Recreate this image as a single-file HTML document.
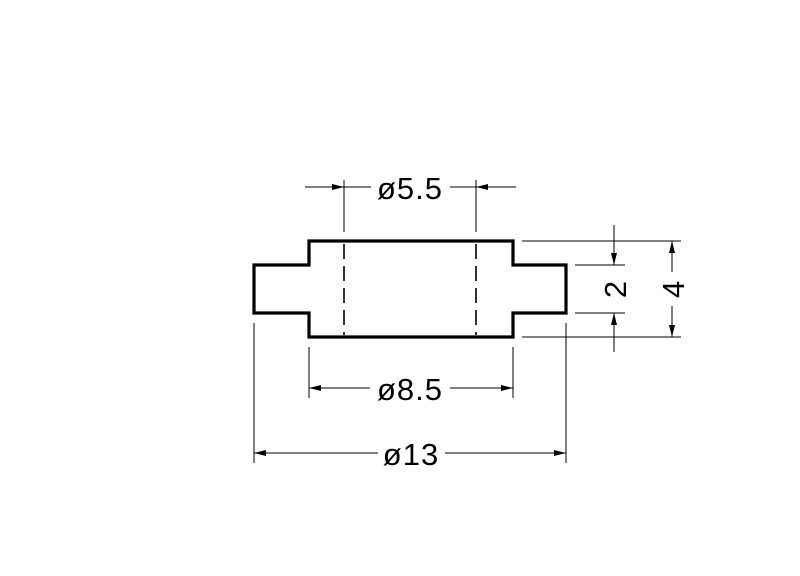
<!DOCTYPE html>
<html><head><style>body{margin:0;background:#fff}svg{display:block}</style></head><body>
<svg width="800" height="576" viewBox="0 0 800 576" xmlns="http://www.w3.org/2000/svg">
<defs>
<marker id="a" viewBox="0 0 12 6" refX="12" refY="3" markerWidth="12" markerHeight="6" markerUnits="userSpaceOnUse" orient="auto-start-reverse"><path d="M0,0L12,3L0,6z" fill="#000"/></marker>
</defs>
<g fill="none" stroke="#000">
<path d="M254,265H309V241H513V265H566V313H513V337H309V313H254Z" stroke-width="3.2"/>
<g stroke-width="1.6" stroke-dasharray="15,7"><path d="M344,244V335M476,244V335"/></g>
<g stroke-width="1">
<path d="M344,180V232M476,180V232"/>
<path d="M305,187H344" marker-end="url(#a)"/><path d="M344,187H371"/>
<path d="M516,187H476" marker-end="url(#a)"/><path d="M476,187H450"/>
<path d="M309,347V398M513,347V398"/>
<path d="M370,388H309" marker-end="url(#a)"/>
<path d="M450,388H513" marker-end="url(#a)"/>
<path d="M254,323V463M566,323V463"/>
<path d="M378,453H254" marker-end="url(#a)"/>
<path d="M445,453H566" marker-end="url(#a)"/>
<path d="M522,241H681M522,337H681M575,265H625M575,313H625"/>
<path d="M614,225V265" marker-end="url(#a)"/>
<path d="M614,352V313" marker-end="url(#a)"/>
<path d="M672,272V241" marker-end="url(#a)"/>
<path d="M672,306V337" marker-end="url(#a)"/>
</g></g>
<g font-family="Liberation Sans, sans-serif" font-size="31" fill="#000" text-anchor="middle" letter-spacing="1">
<text x="410" y="199">ø5.5</text>
<text x="410" y="400">ø8.5</text>
<text x="411" y="465">ø13</text>
<text transform="translate(626,289) rotate(-90)">2</text>
<text transform="translate(684,289) rotate(-90)">4</text>
</g>
</svg>
</body></html>
